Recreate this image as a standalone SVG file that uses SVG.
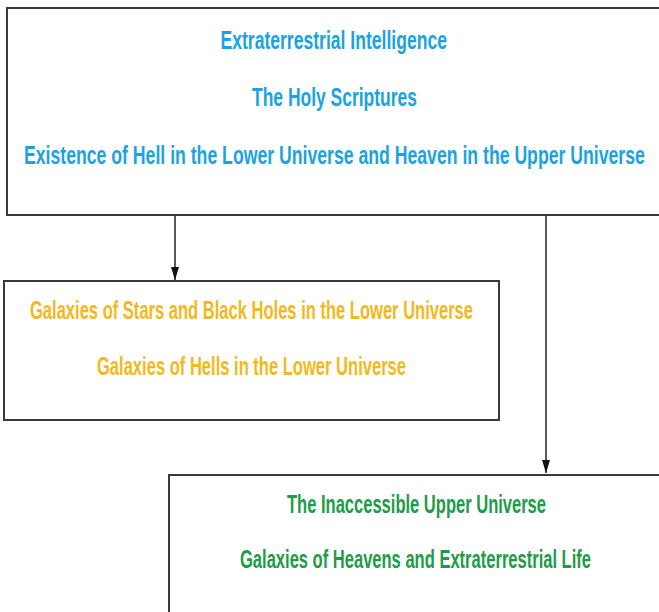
<svg xmlns="http://www.w3.org/2000/svg" width="659" height="612" viewBox="0 0 659 612">
<style>
.box{fill:#fff;stroke:#3a3a3a;stroke-width:2}
.t{font-family:"Liberation Sans",Arial,sans-serif;font-weight:bold;font-size:26px}
.blue{fill:#1ca3df}
.yellow{fill:#f3b91a}
.green{fill:#1e9c49}
.conn{stroke:#222;stroke-width:1.5;fill:none}
</style>
<defs>
<marker id="ah" markerWidth="13" markerHeight="8" refX="13" refY="4" orient="auto" markerUnits="userSpaceOnUse" viewBox="0 0 13 8">
<path d="M0,0 L13,4 L0,8 Z" fill="#111"/>
</marker>
</defs>
<rect width="659" height="612" fill="#fff"/>
<g id="node-top">
<rect class="box" x="7" y="8" width="670" height="207"/>
<text class="t blue" transform="translate(220.5,49) scale(0.68,1)" x="0" y="0" textLength="333" lengthAdjust="spacingAndGlyphs">Extraterrestrial Intelligence</text>
<text class="t blue" transform="translate(252,106) scale(0.68,1)" x="0" y="0" textLength="242.6" lengthAdjust="spacingAndGlyphs">The Holy Scriptures</text>
<text class="t blue" transform="translate(24,164) scale(0.68,1)" x="0" y="0" textLength="913" lengthAdjust="spacingAndGlyphs">Existence of Hell in the Lower Universe and Heaven in the Upper Universe</text>
</g>
<g id="node-lower">
<rect class="box" x="4" y="281" width="495" height="139"/>
<text class="t yellow" transform="translate(30,319) scale(0.68,1)" x="0" y="0" textLength="651.5" lengthAdjust="spacingAndGlyphs">Galaxies of Stars and Black Holes in the Lower Universe</text>
<text class="t yellow" transform="translate(97,375) scale(0.68,1)" x="0" y="0" textLength="454.4" lengthAdjust="spacingAndGlyphs">Galaxies of Hells in the Lower Universe</text>
</g>
<g id="node-upper">
<rect class="box" x="169" y="475" width="510" height="160"/>
<text class="t green" transform="translate(287,513) scale(0.68,1)" x="0" y="0" textLength="380.9" lengthAdjust="spacingAndGlyphs">The Inaccessible Upper Universe</text>
<text class="t green" transform="translate(240,568) scale(0.68,1)" x="0" y="0" textLength="516.2" lengthAdjust="spacingAndGlyphs">Galaxies of Heavens and Extraterrestrial Life</text>
</g>
<g id="connectors">
<line class="conn" x1="175" y1="216" x2="175" y2="280" marker-end="url(#ah)"/>
<line class="conn" x1="546" y1="216" x2="546" y2="473" marker-end="url(#ah)"/>
</g>
</svg>
